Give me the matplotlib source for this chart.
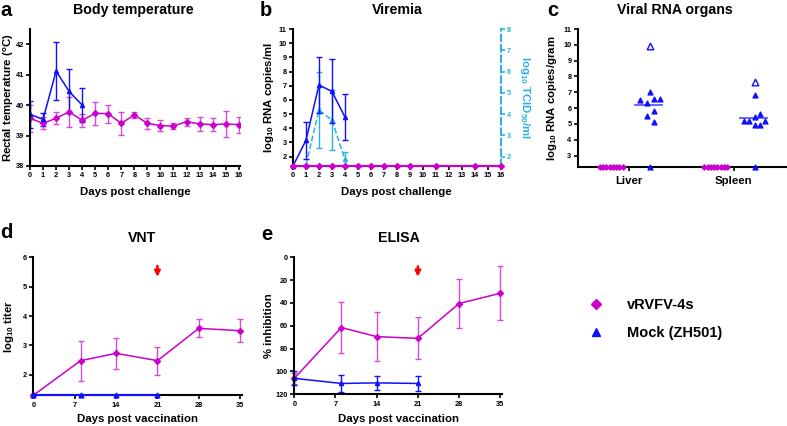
import numpy as np
import matplotlib
matplotlib.use('Agg')
import matplotlib.pyplot as plt
from matplotlib.lines import Line2D

plt.rcParams['font.family'] = 'Liberation Sans'
plt.rcParams['font.weight'] = 'bold'
plt.rcParams['mathtext.fontset'] = 'custom'
plt.rcParams['mathtext.rm'] = 'Liberation Sans:bold'
plt.rcParams['mathtext.bf'] = 'Liberation Sans:bold'

MAG = '#cc00cc'
MAG_ERR = '#d84ad8'
BLUE = '#1010ff'
LBLUE = '#2bb0ea'

# ---- a: body temperature
temp_days_vac = np.arange(17)
temp_vac = [39.57, 39.4, 39.57, 39.78, 39.5, 39.73, 39.72, 39.4, 39.68, 39.4,
            39.33, 39.31, 39.46, 39.38, 39.36, 39.38, 39.36]
temp_vac_err = [0.44, 0.2, 0.2, 0.5, 0.21, 0.38, 0.3, 0.37, 0.1, 0.18,
                0.17, 0.11, 0.13, 0.23, 0.21, 0.43, 0.26]
temp_days_mock = [0, 1, 2, 3, 4]
temp_mock = [39.7, 39.53, 41.12, 40.45, 40.0]
temp_mock_err = [0.44, 0.22, 0.95, 0.72, 0.55]

# ---- b: viremia
vir_days_vac = [0, 1, 2, 3, 4, 5, 6, 7, 8, 9, 11, 14, 16]
vir_vac = [1.34] * 13
rna_days = [0, 1, 2, 3, 4]
rna_mock = [1.34, 3.15, 7.05, 6.6, 4.8]
rna_mock_err = [0, 1.3, 2.0, 2.25, 1.63]
tcid_days = [1, 2, 3, 4]
tcid_mock = [1.62, 4.19, 3.72, 1.87]
tcid_mock_err = [0, 1.8, 1.4, 0.37]

# ---- c: viral RNA organs
organs = ['Liver', 'Spleen']
organ_vac = [[2.3] * 8, [2.3] * 8]
liver_mock = [7.05, 6.5, 6.35, 6.55, 6.6, 5.8, 5.5, 5.15, 2.3]
spleen_mock = [6.8, 5.6, 5.45, 5.2, 5.2, 5.2, 4.95, 4.95, 2.3]
organ_mock = [liver_mock, spleen_mock]
organ_open = [9.9, 7.65]
organ_median = [6.2, 5.35]

# ---- d/e: VNT and ELISA
vac_days = [0, 8, 14, 21, 28, 35]
vnt_vac = [1.3, 2.48, 2.73, 2.48, 3.58, 3.5]
vnt_vac_err = [0, 0.68, 0.52, 0.48, 0.31, 0.39]
mock_days = [0, 8, 14, 21]
vnt_mock = [1.3, 1.3, 1.3, 1.3]
elisa_vac = [106, 61.5, 69.5, 71, 40.5, 31.5]
elisa_vac_err = [5, 22.5, 21.5, 18.5, 21.5, 23.5]
elisa_mock = [106, 110.5, 110, 110.5]
elisa_mock_err = [6, 7.5, 5.8, 6.5]
boost_day = 21

W, H = 787, 426
fig = plt.figure(figsize=(W / 100, H / 100), dpi=100)


def add_ax(left, top, right, bottom, ylab_x, xlab_y):
    ax = fig.add_axes([left / W, 1 - bottom / H, (right - left) / W, (bottom - top) / H])
    for s in ['top', 'right']:
        ax.spines[s].set_visible(False)
    for s in ['left', 'bottom']:
        ax.spines[s].set_linewidth(1.5)
    ax.tick_params(labelsize=5.3, width=1.2, length=3, pad=1.5)
    ax.yaxis.set_label_coords((ylab_x - left) / (right - left), 0.5)
    ax.xaxis.set_label_coords(0.5, -(xlab_y - bottom) / (bottom - top))
    return ax


def ftxt(x, y, s, size, **kw):
    fig.text(x / W, 1 - y / H, s, fontsize=size, fontweight='bold', ha='center', va='center', **kw)


ebkw = dict(capsize=2.5, elinewidth=1.0, capthick=1.0, lw=1.1, ms=3.0)
LAB = dict(fontsize=8.2, fontweight='bold', va='center')
arrow = dict(arrowstyle='-|>', color='red', lw=1.8, mutation_scale=8)

# a
ax = add_ax(30, 29, 240, 166, 8.5, 192)
ax.errorbar(temp_days_vac, temp_vac, yerr=temp_vac_err, color=MAG, ecolor=MAG_ERR, marker='D', **ebkw)
ax.errorbar(temp_days_mock, temp_mock, yerr=temp_mock_err, color=BLUE, marker='^', **ebkw)
ax.set_xlim(0, 16.1)
ax.set_ylim(38, 42.5)
ax.set_xticks(range(17))
ax.set_yticks([38, 39, 40, 41, 42])
ax.set_xlabel('Days post challenge', **LAB)
ax.set_ylabel(r'Rectal temperature ($^{\mathbf{o}}$C)', **LAB)

# b
ax = add_ax(293, 29, 500.5, 166, 269, 192)
ax2 = ax.twinx()
ax2.spines['top'].set_visible(False)
ax2.spines['left'].set_visible(False)
ax2.spines['bottom'].set_visible(False)
ax2.spines['right'].set_color(LBLUE)
ax2.spines['right'].set_linestyle((0, (3, 2)))
ax2.spines['right'].set_linewidth(1.5)
ax2.errorbar(tcid_days, tcid_mock, yerr=tcid_mock_err, color=LBLUE, marker='^', ls='--', clip_on=False, **ebkw)
ax2.set_ylim(1.56, 8)
ax2.set_yticks(range(2, 9))
ax2.tick_params(labelsize=5.3, width=1.2, length=3, pad=1.5, colors=LBLUE)
ax2.set_ylabel(r'log$_{\mathbf{10}}$ TCID$_{\mathbf{50}}$/ml', color=LBLUE, rotation=270, **LAB)
ax2.yaxis.set_label_coords((525 - 293) / 207.5, 0.5)
ax.errorbar(rna_days, rna_mock, yerr=rna_mock_err, color=BLUE, marker='^', clip_on=False, zorder=3, **ebkw)
ax.plot(vir_days_vac, vir_vac, color=MAG, marker='D', lw=1.5, ms=3.0, clip_on=False, zorder=4)
ax.set_zorder(ax2.get_zorder() + 1)
ax.patch.set_visible(False)
ax.set_xlim(0, 16)
ax.set_ylim(1.34, 11)
ax.set_xticks(range(17))
ax.set_yticks(range(2, 12))
ax.set_xlabel('Days post challenge', **LAB)
ax.set_ylabel(r'log$_{\mathbf{10}}$ RNA copies/ml', **LAB)

# c
ax = add_ax(577.7, 29, 787, 166.7, 552, 192)
vac_off = np.linspace(-0.28, -0.06, 8)
mock_off = [0.0, -0.095, -0.03, 0.04, 0.1, 0.04, -0.03, 0.04, 0.0]
spl_off = [0.0, 0.05, 0.0, -0.1, -0.05, 0.1, 0.0, 0.05, 0.0]
offs = [mock_off, spl_off]
for i, org in enumerate(organs):
    xc = i + 1
    ax.scatter(xc + vac_off, organ_vac[i], marker='D', s=7, color=MAG, clip_on=False, zorder=3)
    ax.scatter(xc + 0.2 + np.array(offs[i]), organ_mock[i], marker='^', s=12, color=BLUE, clip_on=False, zorder=3)
    ax.scatter([xc + 0.2], [organ_open[i]], marker='^', s=22, facecolor='white', edgecolor=BLUE, lw=1, zorder=3)
    ax.plot([xc + 0.06, xc + 0.32], [organ_median[i]] * 2, color='#5a5aff', lw=1.3, zorder=2)
ax.set_xlim(0.51, 2.51)
ax.set_ylim(2.3, 11)
ax.set_xticks([1, 2])
ax.set_xticklabels(organs, fontsize=8.2, fontweight='bold')
ax.tick_params(axis='x', pad=4)
ax.set_yticks(range(3, 12))
ax.set_ylabel(r'log$_{\mathbf{10}}$ RNA copies/gram', **LAB)

# d
ax = add_ax(33.3, 257.3, 242, 395.3, 9, 419)
ax.errorbar(vac_days, vnt_vac, yerr=vnt_vac_err, color=MAG, ecolor=MAG_ERR, marker='D', clip_on=False, **ebkw)
ax.plot(mock_days, vnt_mock, color=BLUE, marker='^', lw=1.5, ms=3.5, clip_on=False, zorder=4)
ax.annotate('', xy=(boost_day, 5.24), xytext=(boost_day, 5.8), arrowprops=arrow)
ax.set_xlim(0, 35.3)
ax.set_ylim(1.3, 6)
ax.set_xticks([0, 7, 14, 21, 28, 35])
ax.set_yticks([2, 3, 4, 5, 6])
ax.set_xlabel('Days post vaccination', **LAB)
ax.set_ylabel(r'log$_{\mathbf{10}}$ titer', **LAB)

# e
ax = add_ax(294.3, 257.3, 502, 394.3, 269, 419)
ax.errorbar(vac_days, elisa_vac, yerr=elisa_vac_err, color=MAG, ecolor=MAG_ERR, marker='D', clip_on=False, **ebkw)
ax.errorbar(mock_days, elisa_mock, yerr=elisa_mock_err, color=BLUE, marker='^', clip_on=False, **ebkw)
ax.annotate('', xy=(boost_day, 19.5), xytext=(boost_day, 5.5), arrowprops=arrow)
ax.set_xlim(0, 35.3)
ax.set_ylim(120, 0)
ax.set_xticks([0, 7, 14, 21, 28, 35])
ax.set_yticks(range(0, 121, 20))
ax.set_xlabel('Days post vaccination', **LAB)
ax.set_ylabel('% inhibition', **LAB)

# titles and panel letters
ftxt(133, 10, 'Body temperature', 10.2)
ftxt(397, 10, 'Viremia', 10.2)
ftxt(675, 10, 'Viral RNA organs', 10.2)
ftxt(142, 238, 'VNT', 10.2)
ftxt(399, 238, 'ELISA', 10.2)
for x, y, s in [(6, 10, 'a'), (266, 10, 'b'), (553, 10, 'c'), (6, 233, 'd'), (267, 234, 'e')]:
    ftxt(x, y, s, 14.5)

handles = [Line2D([], [], color=MAG, marker='D', ls='none', ms=5),
           Line2D([], [], color=BLUE, marker='^', ls='none', ms=6)]
fig.legend(handles, ['vRVFV-4s', 'Mock (ZH501)'], loc='upper left', bbox_to_anchor=(576 / W, 1 - 285 / H),
           frameon=False, handlelength=1, handletextpad=1.6, labelspacing=0.95,
           prop={'size': 10.5, 'weight': 'bold'})

fig.savefig('out.png', dpi=100)
